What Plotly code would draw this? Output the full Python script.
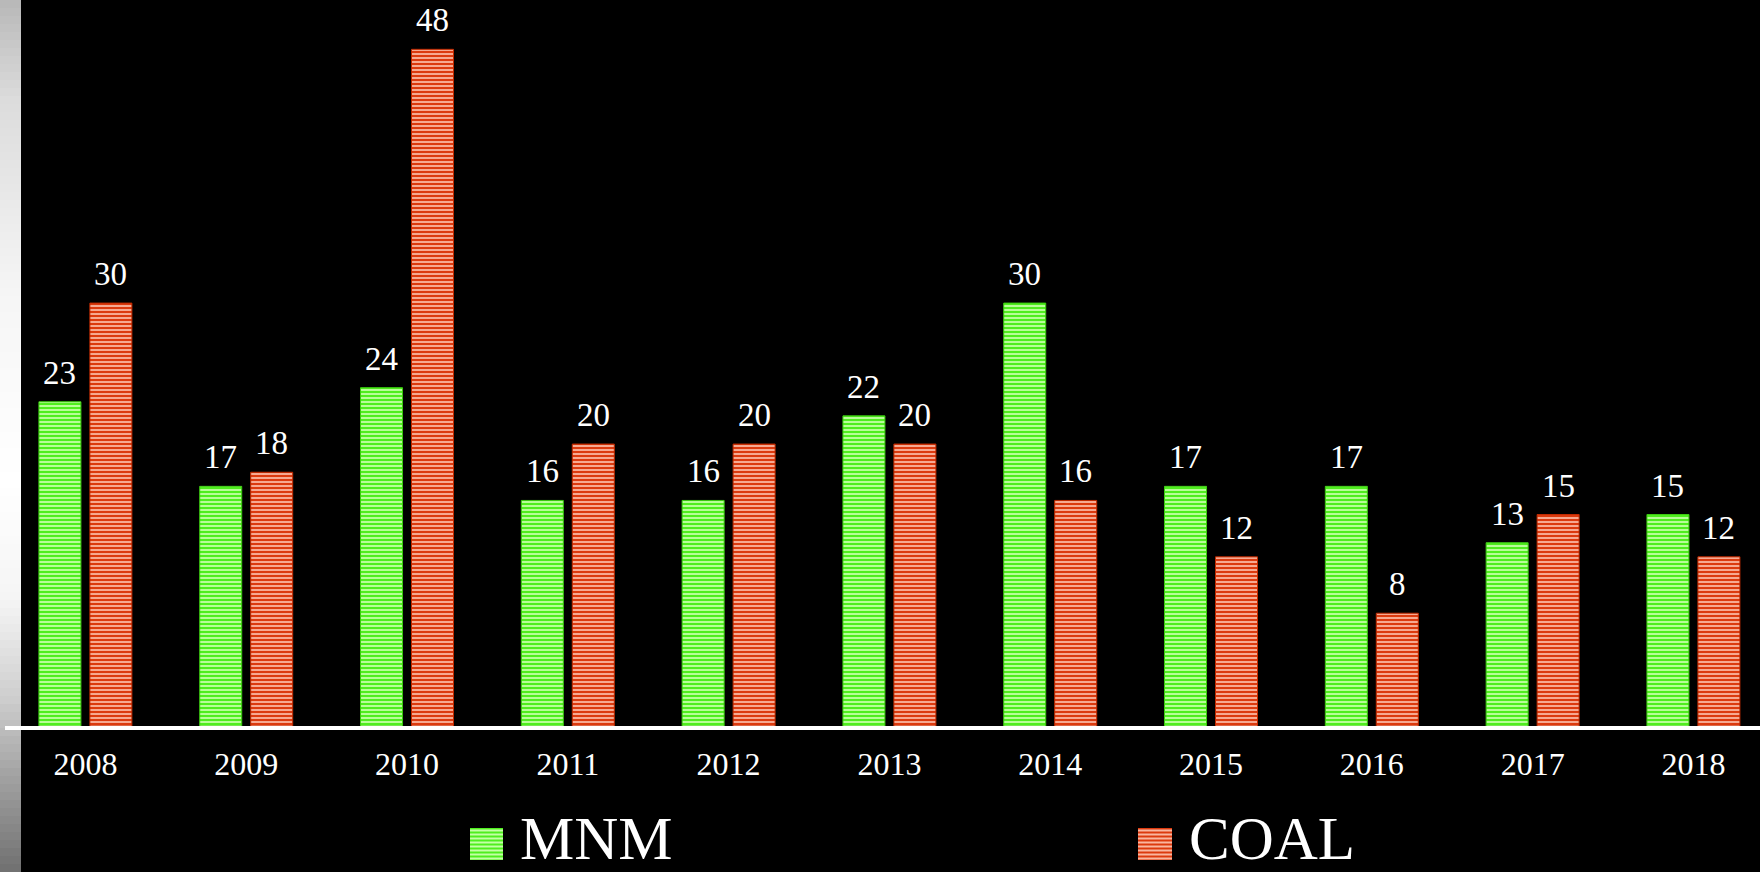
import plotly.graph_objects as go

# ---- data ----
years = ["2008", "2009", "2010", "2011", "2012", "2013", "2014", "2015", "2016", "2017", "2018"]
mnm = [23, 17, 24, 16, 16, 22, 30, 17, 17, 13, 15]
coal = [30, 18, 48, 20, 20, 20, 16, 12, 8, 15, 12]
series_names = ["MNM", "COAL"]

# ---- style ----
W, H = 1760, 872
ML, MR, MT, MB = 5, 0, 0, 146
PW, PH = W - ML - MR, H - MT - MB
GREEN, GREEN_LT = "#4fee1e", "#c4ffa6"
RED, RED_LT = "#dc3a0e", "#f9b6a0"
FONT = "Liberation Serif, Times New Roman, serif"


def px_x(x):
    return (x - ML) / PW


def px_y(y):
    return (MT + PH - y) / PH


fig = go.Figure()
for name, vals, base, light, edge in [
    (series_names[0], mnm, GREEN, GREEN_LT, "#3ccc10"),
    (series_names[1], coal, RED, RED_LT, "#c02a00"),
]:
    fig.add_trace(go.Bar(
        x=years, y=vals, name=name, showlegend=False,
        marker=dict(color=base, line=dict(color=edge, width=1),
                    pattern=dict(shape="-", fgcolor=light, bgcolor=base,
                                 size=4, solidity=0.45, fillmode="replace")),
        hoverinfo="x+y",
    ))

annotations = []
for vals, shift in [(mnm, -25.5), (coal, 25.5)]:
    for i, v in enumerate(vals):
        annotations.append(dict(
            x=i, y=v, xref="x", yref="y", text=str(v), showarrow=False,
            xshift=shift, yshift=9, yanchor="bottom",
            font=dict(family=FONT, size=33, color="white"),
        ))

shapes = []
# left decorative gradient strip
stops = [(0, 184), (100, 220), (300, 246), (480, 255), (600, 245), (700, 205), (780, 160), (872, 112)]


def gray_at(y):
    for (y0, g0), (y1, g1) in zip(stops[:-1], stops[1:]):
        if y0 <= y <= y1:
            return g0 + (g1 - g0) * (y - y0) / (y1 - y0)
    return stops[-1][1]


step = 8
for y in range(0, H, step):
    g = int(round(gray_at(y + step / 2)))
    shapes.append(dict(type="rect", xref="paper", yref="paper",
                       x0=px_x(0), x1=px_x(21), y0=px_y(y), y1=px_y(min(y + step, H)),
                       fillcolor=f"rgb({g},{g},{g})", line=dict(width=0), layer="below"))

# custom legend
legend_items = [(series_names[0], 470, 503, 518, GREEN, GREEN_LT),
                (series_names[1], 1138, 1172, 1187, RED, RED_LT)]
for name, sx0, sx1, tx, base, light in legend_items:
    sy0, sy1 = 828, 860
    shapes.append(dict(type="rect", xref="paper", yref="paper",
                       x0=px_x(sx0), x1=px_x(sx1), y0=px_y(sy1), y1=px_y(sy0),
                       fillcolor=base, line=dict(width=0)))
    yy = sy0 + 2.5
    while yy < sy1:
        shapes.append(dict(type="line", xref="paper", yref="paper",
                           x0=px_x(sx0), x1=px_x(sx1), y0=px_y(yy), y1=px_y(yy),
                           line=dict(color=light, width=1.8)))
        yy += 4
    annotations.append(dict(
        x=px_x(tx), y=px_y(838), xref="paper", yref="paper", text=name,
        showarrow=False, xanchor="left", yanchor="middle",
        font=dict(family=FONT, size=61, color="white"),
    ))

fig.update_layout(
    width=W, height=H,
    margin=dict(l=ML, r=MR, t=MT, b=MB, pad=0),
    paper_bgcolor="black", plot_bgcolor="black",
    barmode="group", bargap=0.366, bargroupgap=0.176,
    showlegend=False,
    xaxis=dict(type="category", range=[-0.5, 10.414], showgrid=False, zeroline=False,
               showline=True, linecolor="white", linewidth=4, ticks="",
               tickfont=dict(family=FONT, size=32, color="white"),
               ticklabelstandoff=7),
    yaxis=dict(range=[0, 51.5], showgrid=False, zeroline=False, showticklabels=False,
               showline=False),
    shapes=shapes,
    annotations=annotations,
)

fig.write_html(
    "out.html",
    config={"displayModeBar": False},
    post_script="document.body.style.margin='0';document.body.style.background='black';"
                "document.body.style.overflow='hidden';",
)
